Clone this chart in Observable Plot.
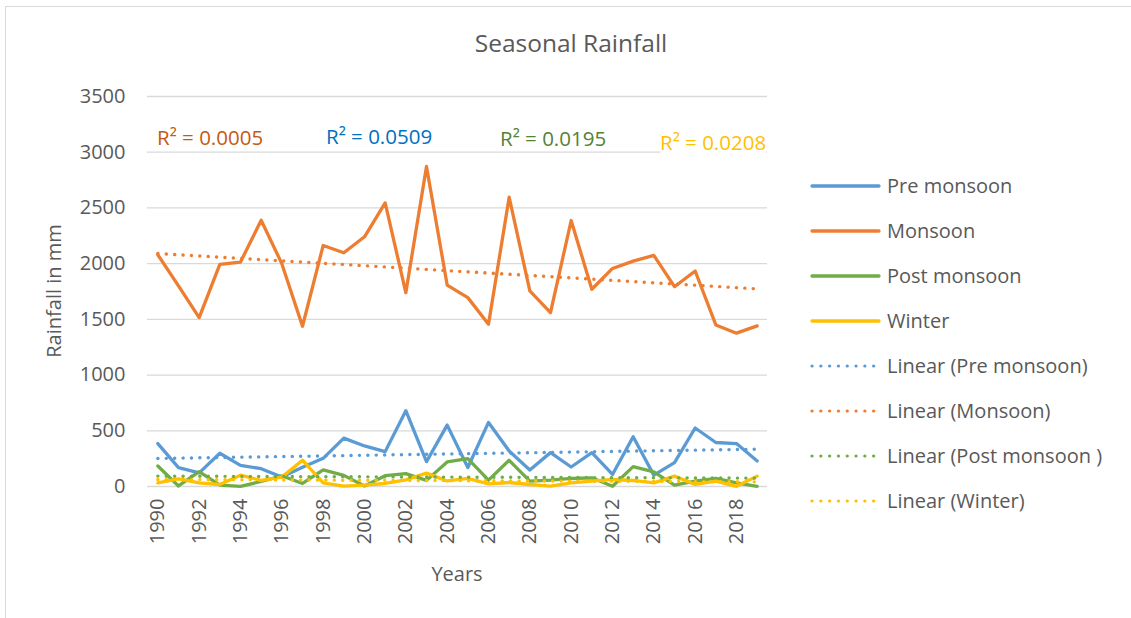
<!DOCTYPE html>
<html>
<head>
<meta charset="utf-8">
<script src="https://cdn.jsdelivr.net/npm/d3@7"></script>
<script src="https://cdn.jsdelivr.net/npm/@observablehq/plot@0.6"></script>
<style>
  html, body { margin: 0; padding: 0; background: #fff; }
  #wrap { position: relative; width: 1131px; height: 618px; overflow: hidden; font-family: "Open Sans", sans-serif; color: #595959; }
  #frame { position: absolute; left: 5px; top: 6px; width: 1140px; height: 640px; border-left: 1.5px solid #d9d9d9; border-top: 1.5px solid #d9d9d9; }
  #chart { position: absolute; left: 0; top: 0; }
  .abs { position: absolute; white-space: nowrap; }
  #title { left: 0; width: 1142px; top: 26px; text-align: center; font-size: 24.5px; }
  #ylab { left: 53px; top: 291px; font-size: 20px; transform: translate(-50%, -50%) rotate(-90deg); }
  #xlab { left: 457px; top: 573px; font-size: 20px; transform: translate(-50%, -50%); }
  .r2 { font-size: 20.5px; line-height: 1; }
  .leg { position: absolute; left: 810px; font-size: 20px; display: flex; align-items: center; }
  .leg svg { margin-right: 5px; }
</style>
</head>
<body>
<div id="wrap">
  <div id="frame"></div>
  <div id="chart"></div>
  <div id="title" class="abs"></div>
  <div id="ylab" class="abs"></div>
  <div id="xlab" class="abs"></div>
  <div id="r2box"></div>
  <div id="legend"></div>
</div>
<script>
// ---- data ----
const years = [1990,1991,1992,1993,1994,1995,1996,1997,1998,1999,2000,2001,2002,2003,2004,2005,2006,2007,2008,2009,2010,2011,2012,2013,2014,2015,2016,2017,2018,2019];
const preMonsoon  = [385,169,122,298,190,160,85,172,253,434,364,313,680,223,551,170,575,319,148,304,175,304,108,446,102,214,525,395,385,229];
const monsoon     = [2080,1800,1516,1993,2014,2390,2000,1438,2163,2098,2241,2545,1740,2872,1808,1695,1456,2596,1755,1561,2387,1770,1957,2023,2074,1793,1934,1450,1376,1441];
const postMonsoon = [184,5,133,12,2,45,96,27,150,100,5,97,115,55,220,250,57,235,48,57,72,78,2,178,132,12,48,72,33,2];
const winter      = [33,69,33,18,102,54,84,236,32,3,13,27,60,120,50,72,24,36,18,3,33,48,63,54,33,93,18,48,2,93];

const seriesNames = ["Pre monsoon", "Monsoon", "Post monsoon", "Winter"];
const trendNames  = ["Linear (Pre monsoon)", "Linear (Monsoon)", "Linear (Post monsoon )", "Linear (Winter)"];
const seriesColors = ["#5B9BD5", "#ED7D31", "#70AD47", "#FFC000"];
const r2Labels = ["R² = 0.0005", "R² = 0.0509", "R² = 0.0195", "R² = 0.0208"];
const r2Colors = ["#C55A11", "#0070C0", "#548235", "#FFC000"];
const xTicks = [1990,1992,1994,1996,1998,2000,2002,2004,2006,2008,2010,2012,2014,2016,2018];
const yTicks = [0,500,1000,1500,2000,2500,3000,3500];
const titleText = "Seasonal Rainfall";
const yLabel = "Rainfall in mm";
const xLabel = "Years";

// ---- build table ----
const allValues = [preMonsoon, monsoon, postMonsoon, winter];
const rows = [];
allValues.forEach((vals, s) => vals.forEach((v, i) => rows.push({year: years[i], value: v, series: seriesNames[s]})));

const marks = [
  Plot.gridY(yTicks, {stroke: "#d9d9d9", strokeOpacity: 1, strokeWidth: 1.3}),
  Plot.axisY(yTicks, {tickSize: 0, tickPadding: 22, fontSize: 20, fill: "#595959", label: null, tickFormat: d => String(d)}),
  Plot.axisX(xTicks, {tickSize: 0, tickPadding: 12, tickRotate: -90, fontSize: 20, fill: "#595959", label: null, tickFormat: d => String(d)}),
];
seriesNames.forEach((name, s) => {
  const data = rows.filter(r => r.series === name);
  marks.push(Plot.line(data, {x: "year", y: "value", stroke: seriesColors[s], strokeWidth: 3.3, strokeLinejoin: "round", strokeLinecap: "round"}));
});
// trend lines drawn on top
seriesNames.forEach((name, s) => {
  const data = rows.filter(r => r.series === name);
  marks.push(Plot.linearRegressionY(data, {x: "year", y: "value", stroke: seriesColors[s], ci: 0, strokeWidth: 3.4, strokeLinecap: "round", strokeDasharray: "0.1 8.3"}));
});

const chart = Plot.plot({
  width: 1131,
  height: 618,
  marginLeft: 147,
  marginRight: 364,
  marginTop: 96,
  marginBottom: 132,
  style: {fontFamily: "'Open Sans', sans-serif", background: "transparent", color: "#595959"},
  x: {domain: [1989.5, 2019.5], axis: null},
  y: {domain: [0, 3500], axis: null},
  marks
});
document.getElementById("chart").appendChild(chart);

document.getElementById("title").textContent = titleText;
document.getElementById("ylab").textContent = yLabel;
document.getElementById("xlab").textContent = xLabel;

// R² labels (annotation text)
const r2Pos = [[157, 127], [326, 126], [500, 128], [660, 132]];
const r2box = document.getElementById("r2box");
r2Labels.forEach((t, i) => {
  const d = document.createElement("div");
  d.className = "abs r2";
  d.style.left = r2Pos[i][0] + "px";
  d.style.top = r2Pos[i][1] + "px";
  d.style.color = r2Colors[i];
  d.style.background = "#fff";
  d.textContent = t;
  r2box.appendChild(d);
});

// legend
const legend = document.getElementById("legend");
const legendItems = [
  ...seriesNames.map((n, i) => ({label: n, color: seriesColors[i], dotted: false})),
  ...trendNames.map((n, i) => ({label: n, color: seriesColors[i], dotted: true}))
];
legendItems.forEach((it, k) => {
  const row = document.createElement("div");
  row.className = "leg";
  row.style.top = (185.5 + 45 * k - 14) + "px";
  row.style.height = "28px";
  const ns = "http://www.w3.org/2000/svg";
  const svg = document.createElementNS(ns, "svg");
  svg.setAttribute("width", 72);
  svg.setAttribute("height", 10);
  const ln = document.createElementNS(ns, "line");
  ln.setAttribute("x1", 2); ln.setAttribute("x2", it.dotted ? 64 : 69);
  ln.setAttribute("y1", 5); ln.setAttribute("y2", 5);
  ln.setAttribute("stroke", it.color);
  ln.setAttribute("stroke-linecap", "round");
  if (it.dotted) { ln.setAttribute("stroke-width", 3.2); ln.setAttribute("stroke-dasharray", "0.1 8.7"); }
  else ln.setAttribute("stroke-width", 3.3);
  svg.appendChild(ln);
  row.appendChild(svg);
  const sp = document.createElement("span");
  sp.textContent = it.label;
  row.appendChild(sp);
  legend.appendChild(row);
});
</script>
</body>
</html>
